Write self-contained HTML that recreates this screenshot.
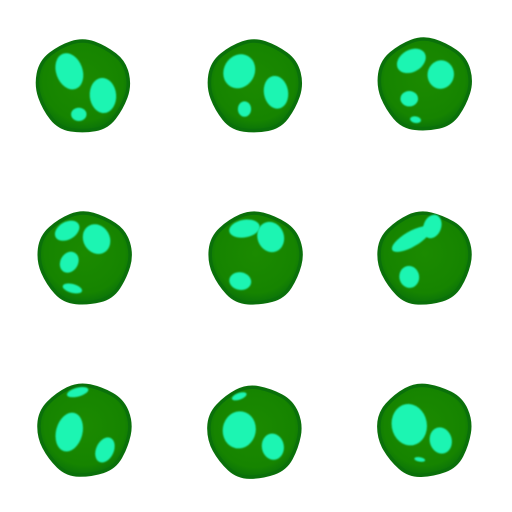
<!DOCTYPE html>
<html><head><meta charset="utf-8"><style>html,body{margin:0;padding:0;background:#fff;width:512px;height:512px;overflow:hidden}</style></head>
<body>
<svg id="s" width="512" height="512" viewBox="0 0 512 512">
<defs><filter id="bl" x="-20%" y="-20%" width="140%" height="140%"><feGaussianBlur stdDeviation="0.8"/></filter>
<radialGradient id="g" cx="50%" cy="45%" r="55%"><stop offset="0" stop-color="#1b8a00"/><stop offset="0.8" stop-color="#168400"/><stop offset="1" stop-color="#0b7408"/></radialGradient></defs>
</svg>
<script>
const centers=[[83,86],[255,86],[425,84],[85,258],[256,258],[425,258],[85,430],[255,432],[425,430]];
const spots=[
[[70,72,12,17,-20],[102,95,12,16,-5],[79,113,7,6,0]],
[[240,72,14,16,30],[275,92,11,15,-10],[245,108,6,7,0]],
[[412,62,14,10,-30],[440,75,12,13,10],[410,98,8,7,0],[416,118,5,3,10]],
[[68,232,12,8,-30],[96,240,12,14,-30],[70,262,8,10,30],[73,287,9,4,15]],
[[245,230,14,8,-10],[270,238,12,14,-20],[241,280,10,8,10]],
[[412,240,20,7,-30],[432,228,8,11,20],[410,276,9,10,-10]],
[[78,394,10,4,-15],[70,432,12,18,15],[104,449,8,12,25]],
[[240,398,7,3,-20],[240,430,15,17,10],[272,446,10,12,-10]],
[[410,425,16,19,-10],[440,440,10,12,-15],[420,458,5,2,10]]
];
const svg=document.getElementById('s');const NS='http://www.w3.org/2000/svg';
const wob=[1.0,0.95,1.02,0.97,1.03,0.96,1.0,1.04,0.97,1.0,0.95,1.02];
const K=1.1;
centers.forEach((c,i)=>{
 const g=document.createElementNS(NS,'g');
 
 
 let d='';const n=wob.length;const R=47;
 const pts=[];for(let k=0;k<n;k++){const a=k/n*2*Math.PI+i*0.5;const r=R*wob[(k+i)%n];pts.push([c[0]+r*Math.cos(a),c[1]+r*Math.sin(a)]);}
 for(let k=0;k<n;k++){const p=pts[k],q=pts[(k+1)%n];const m=[(p[0]+q[0])/2,(p[1]+q[1])/2];if(k==0){const pm=pts[n-1];d+='M'+((pm[0]+p[0])/2)+' '+((pm[1]+p[1])/2);}d+=' Q'+p[0]+' '+p[1]+' '+m[0]+' '+m[1];}
 const body=document.createElementNS(NS,'path');
 body.setAttribute('d',d+'Z');body.setAttribute('fill','url(#g)');body.setAttribute('stroke','#0a700a');body.setAttribute('stroke-width','3.5');
 
 
 g.appendChild(body);
 spots[i].forEach(s=>{const e=document.createElementNS(NS,'ellipse');
  const cx=c[0]+(s[0]-c[0])*1.05, cy=c[1]+(s[1]-c[1])*1.05;
  e.setAttribute('cx',cx);e.setAttribute('cy',cy);e.setAttribute('rx',s[2]*K);e.setAttribute('ry',s[3]*K);
  e.setAttribute('transform','rotate('+s[4]+' '+cx+' '+cy+')');e.setAttribute('fill','#1cf5b2');e.setAttribute('filter','url(#bl)');
  
  
  g.appendChild(e);});
 svg.appendChild(g);
});
</script>
</body></html>
